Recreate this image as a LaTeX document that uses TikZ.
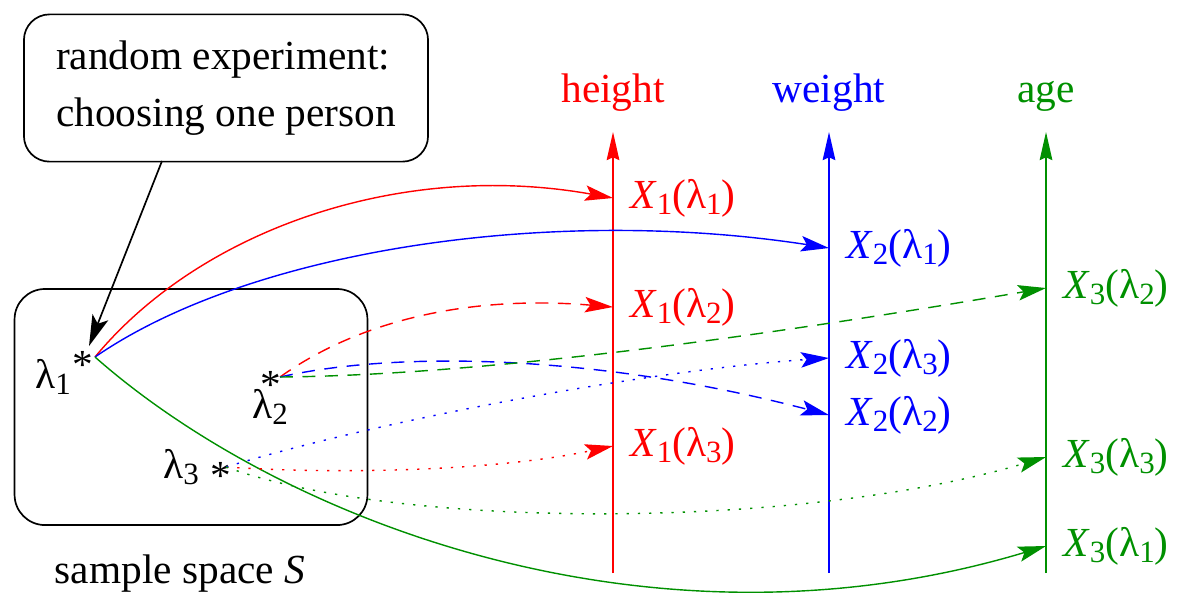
\documentclass[tikz,border=0pt]{standalone}
\usepackage{fontspec}
\setmainfont{Liberation Serif}
\usetikzlibrary{arrows.meta, positioning}

\definecolor{figgreen}{RGB}{0,144,0}
\newcommand{\sub}[1]{\raisebox{-0.35ex}{\fontsize{11}{11}\selectfont #1}}
\newcommand{\xval}[2]{\textit{X}\sub{#1}(λ\sub{#2})}

\begin{document}
\begin{tikzpicture}[
    x=0.0125cm, y=-0.0125cm,
    font=\fontsize{14.7}{20.2}\selectfont,
    frame/.style={draw, line width=0.6pt, rounded corners=0.32cm},
    axis/.style={line width=0.5pt, -{Stealth[length=10pt, width=4.5pt, inset=1pt]}},
    map/.style={line width=0.5pt, -{Stealth[length=10pt, width=5.5pt, inset=2pt]}},
    dashmap/.style={map, dash pattern=on 4.6pt off 3.4pt},
    dotmap/.style={map, dash pattern=on 0.8pt off 3.2pt},
    pointer/.style={line width=0.6pt, -{Stealth[length=11pt, width=6pt, inset=2.5pt]}},
    starmark/.style={inner sep=0pt, yshift=-3.2pt},
    value/.style={inner sep=0pt}
]
\useasboundingbox (0,0) rectangle (1180,592);

% Nodes
\node[frame, minimum width=5.05cm, minimum height=1.84cm, align=left] (experiment) at (226,88) {random experiment:\\choosing one person};
\node[frame, minimum width=4.41cm, minimum height=2.95cm, rounded corners=0.38cm] (space) at (191,407) {};
\node[anchor=base] (spacelabel) at (180,583) {sample space \textit{S}};

\node[starmark] (star1) at (83,356) {*};
\node[starmark] (star2) at (271,376) {*};
\node[starmark] (star3) at (221,467) {*};
\node[anchor=base] (lam1) at (53,388) {λ\sub{1}};
\node[anchor=base] (lam2) at (270,418) {λ\sub{2}};
\node[anchor=base] (lam3) at (181,478) {λ\sub{3}};
\coordinate (o1) at (95,357);
\coordinate (o2) at (280,377);
\coordinate (o3) at (226,467);
\coordinate (tip) at (89,346);

% Axes
\coordinate (hbot) at (613,573);
\coordinate (htop) at (613,132);
\coordinate (wbot) at (829,573);
\coordinate (wtop) at (829,132);
\coordinate (abot) at (1046,573);
\coordinate (atop) at (1046,132);
\node[red, anchor=base] (height) at (613,102) {height};
\node[blue, anchor=base] (weight) at (829,102) {weight};
\node[figgreen, anchor=base] (age) at (1046,102) {age};

% Values
\coordinate (h1) at (613,198);
\coordinate (h2) at (613,307);
\coordinate (h3) at (613,446);
\coordinate (w1) at (829,248);
\coordinate (w3) at (829,358);
\coordinate (w2) at (829,415);
\coordinate (a2) at (1046,288);
\coordinate (a3) at (1046,457);
\coordinate (a1) at (1046,546);
\node[red, value, right=0.21cm of h1] (xh1) {\xval{1}{1}};
\node[red, value, right=0.21cm of h2] (xh2) {\xval{1}{2}};
\node[red, value, right=0.21cm of h3] (xh3) {\xval{1}{3}};
\node[blue, value, right=0.21cm of w1] (xw1) {\xval{2}{1}};
\node[blue, value, right=0.21cm of w3] (xw3) {\xval{2}{3}};
\node[blue, value, right=0.21cm of w2] (xw2) {\xval{2}{2}};
\node[figgreen, value, right=0.21cm of a2] (xa2) {\xval{3}{2}};
\node[figgreen, value, right=0.21cm of a3] (xa3) {\xval{3}{3}};
\node[figgreen, value, right=0.21cm of a1] (xa1) {\xval{3}{1}};

% Arrows
\draw[pointer] (162,161) -- (tip);

\draw[axis, red] (hbot) -- (htop);
\draw[axis, blue] (wbot) -- (wtop);
\draw[axis, figgreen] (abot) -- (atop);

\draw[map, red] (o1) .. controls (200,230) and (400,160) .. (h1);
\draw[map, blue] (o1) .. controls (250,250) and (550,205) .. (w1);
\draw[map, figgreen] (o1) .. controls (280,520) and (650,665) .. (a1);

\draw[dashmap, red] (o2) .. controls (360,320) and (470,295) .. (h2);
\draw[dashmap, blue] (o2) .. controls (400,350) and (600,355) .. (w2);
\draw[dashmap, figgreen] (o2) .. controls (500,375) and (800,330) .. (a2);

\draw[dotmap, red] (o3) .. controls (350,475) and (500,470) .. (h3);
\draw[dotmap, blue] (o3) .. controls (380,420) and (650,370) .. (w3);
\draw[dotmap, figgreen] (o3) .. controls (400,530) and (800,530) .. (a3);

\end{tikzpicture}
\end{document}
